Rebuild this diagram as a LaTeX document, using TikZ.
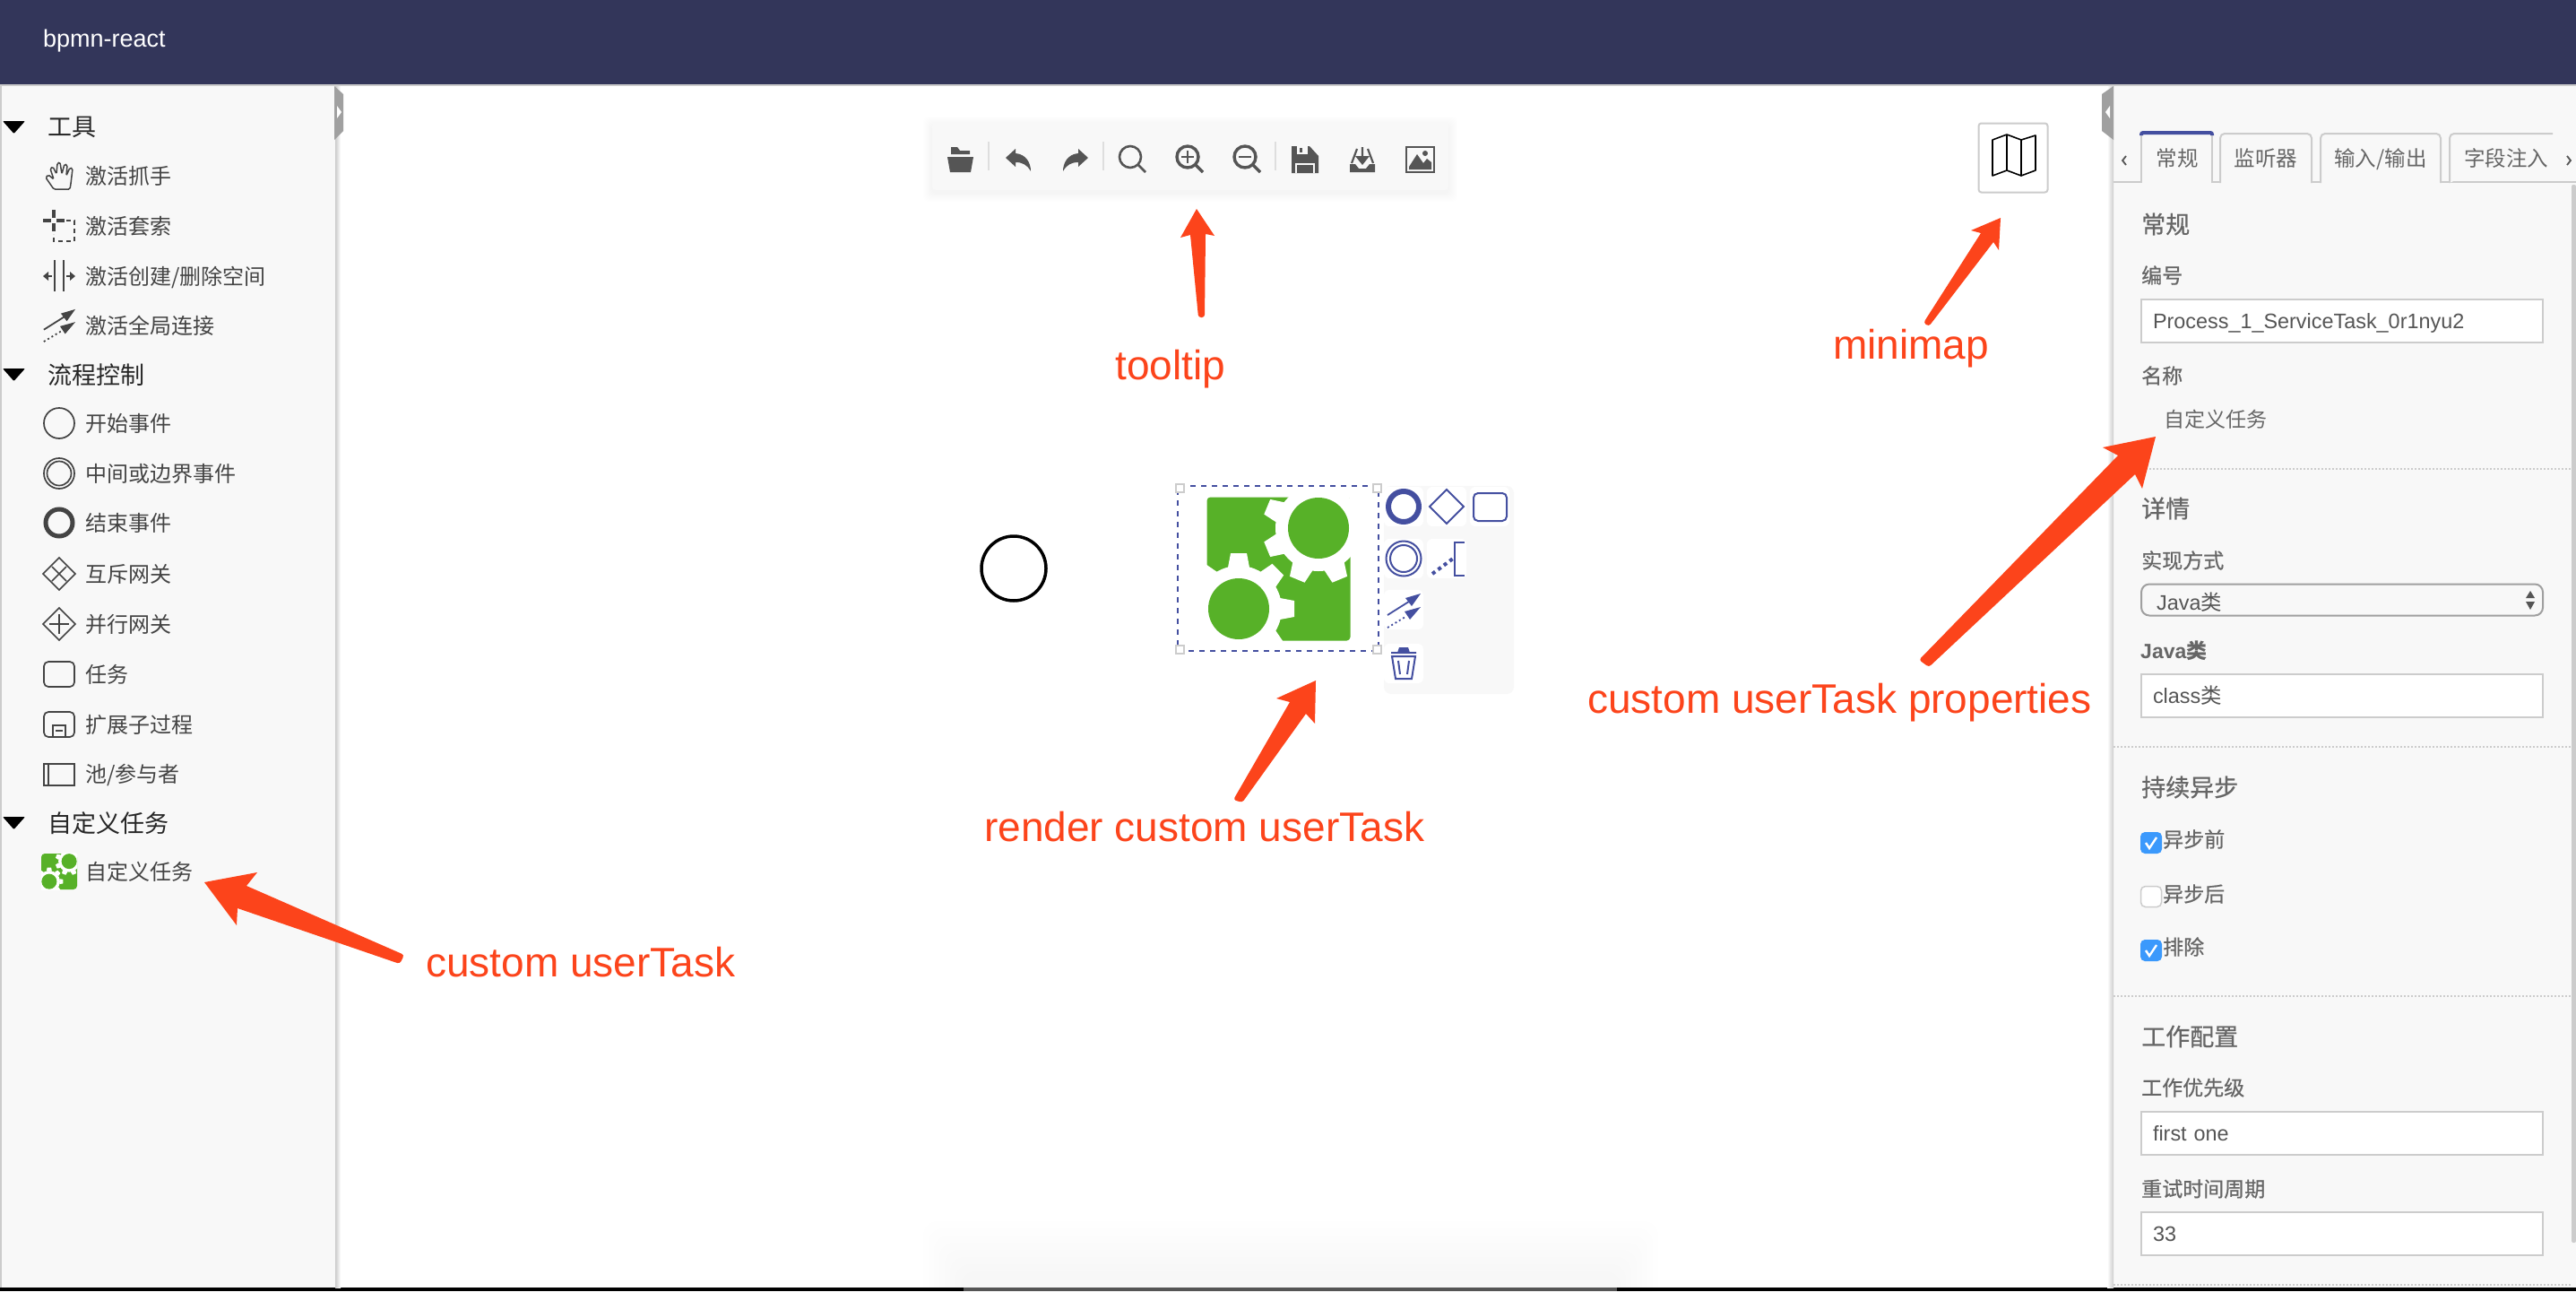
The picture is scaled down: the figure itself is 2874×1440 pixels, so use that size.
\documentclass[tikz,border=0pt]{standalone}
\usepackage{fontspec}
\setmainfont{Liberation Sans}
\newfontfamily\cjk{Noto Sans CJK SC}
\newfontfamily\cjkmed{Noto Sans CJK SC}[FakeBold=0.6]
\newcommand{\pxfont}[1]{\fontsize{#1}{#1}\selectfont}
\definecolor{headbg}{HTML}{33365A}
\definecolor{panelbg}{HTML}{F8F8F8}
\definecolor{rulegray}{HTML}{CCCCCC}
\definecolor{handlegray}{HTML}{A0A0A0}
\definecolor{sideink}{HTML}{444444}
\definecolor{toolink}{HTML}{555555}
\definecolor{formink}{HTML}{666666}
\definecolor{bpmnblue}{HTML}{444FA0}
\definecolor{taskgreen}{HTML}{57B128}
\definecolor{markred}{HTML}{FC441B}
\definecolor{checkblue}{HTML}{3B99FC}
\tikzset{
  x=1pt,y=-1pt,
  sidehead/.style={anchor=west,inner sep=0pt,font=\cjk\pxfont{27},text=black!85},
  sideitem/.style={anchor=west,inner sep=0pt,text height=20pt,text depth=2pt,font=\cjk\pxfont{24},text=sideink},
  icon/.style={draw=sideink,line width=1.7pt},
  tabtext/.style={inner sep=0pt,text height=20pt,text depth=2pt,font=\cjk\pxfont{23.5},text=formink},
  tabedge/.style={draw=rulegray,fill=panelbg,line width=2pt,rounded corners=5pt},
  formhead/.style={anchor=west,inner sep=0pt,font=\cjkmed\pxfont{27},text=formink},
  formlabel/.style={anchor=west,inner sep=0pt,font=\cjkmed\pxfont{23},text=formink},
  formtext/.style={anchor=west,inner sep=0pt,font=\cjk\pxfont{23},text=formink},
  inputbox/.style={draw=rulegray,fill=white,line width=2pt,minimum width=448pt,minimum height=48pt,
    inner xsep=13pt,inner ysep=0pt,text width=422pt,text height=17pt,text depth=0pt,align=left,font=\pxfont{23.4},text=toolink},
  sepline/.style={draw=rulegray,line width=2pt,dash pattern=on 2pt off 2pt},
  checkon/.style={fill=checkblue,rounded corners=5pt,minimum size=24pt,inner sep=0pt},
  checkoff/.style={draw=rulegray,fill=white,line width=1.5pt,rounded corners=5pt,minimum size=23pt,inner sep=0pt},
  toolsep/.style={draw=black!13,line width=2pt},
  padentry/.style={fill=white,rounded corners=6pt,minimum size=44pt,inner sep=0pt},
  padicon/.style={draw=bpmnblue,line width=2pt},
  selectbox/.style={draw=bpmnblue,line width=2pt,dash pattern=on 6pt off 6pt,minimum width=224pt,minimum height=184pt,inner sep=0pt},
  handlebox/.style={draw=rulegray,fill=white,line width=2pt,minimum size=9pt,inner sep=0pt},
  redmark/.style={fill=markred},
  redtext/.style={anchor=base west,inner sep=0pt,font=\pxfont{46},text=markred},
  % white gear, cut out of the green square
  gearcut/.pic={
    \fill[white] (0,0) circle (48);
    \foreach \a in {0,45,...,315}
      \fill[white,rotate=\a] (46,-12) -- (62,-9) -- (62,9) -- (46,12) -- cycle;
  },
  usertaskicon/.pic={
    \begin{scope}
    \clip (-81,-81) rectangle (81,81);
    \fill[taskgreen,rounded corners=4pt] (-80,-80) rectangle (80,80);
    \pic[transform shape,rotate=22.5] at (44.5,-45.5) {gearcut};
    \pic[transform shape] at (-44.5,44.5) {gearcut};
    \fill[taskgreen] (44.5,-45.5) circle (34);
    \fill[taskgreen] (-44.5,44.5) circle (34);
    \end{scope}
  },
  connecticon/.pic={
    \draw[line width=1.8pt] (-18,6) -- (9,-11);
    \fill (19,-18) -- (2,-13) -- (9,-4) -- cycle;
    \draw[line width=1.8pt,dash pattern=on 2pt off 3pt] (-18,20) -- (2,8);
    \fill (19,-3) -- (1,2) -- (7,11) -- cycle;
  },
  undoicon/.pic={
    \fill (-14,-1) -- (-3,-11) -- (-3,-6) .. controls (9,-5) and (14,5) .. (14,14)
      .. controls (10,7) and (5,4) .. (-3,4) -- (-3,9) -- cycle;
  },
  lensicon/.pic={
    \draw[line width=3.4pt] (0,0) circle (12);
    \draw[line width=3.4pt] (9,9) -- (17,17);
  },
}

\begin{document}
\begin{tikzpicture}
\useasboundingbox (0,0) rectangle (2874,1440);
\fill[white] (0,0) rectangle (2874,1440);

% shadow of the page bottom
\foreach \s in {0,...,7}
  \fill[black,opacity=.004,rounded corners=16pt] ({1030+\s*6},{1362+\s*8}) rectangle ({1850-\s*6},1450);
\fill[black] (0,1436) rectangle (2874,1440);
\fill[toolink] (1075,1436) rectangle (1804,1440);

% header
\fill[headbg] (0,0) rectangle (2874,94);
\fill[rulegray] (0,94) rectangle (2874,96);
\node[anchor=west,inner sep=0pt,font=\pxfont{27},text=white] (apptitle) at (48,46) {bpmn-react};

% left panel
\fill[panelbg] (2,96) rectangle (374,1436);
\fill[rulegray] (0,96) rectangle (2,1436);
\shade[left color=rulegray,right color=white] (374,96) rectangle (380,1436);
\fill[handlegray] (373,96) -- (383,105) -- (383,146) -- (373,156) -- cycle;
\fill[white] (376,118) -- (381,125) -- (376,132) -- cycle;

\foreach \y/\nm/\txt in {142/htools/工具,418/hflow/流程控制,918/hcustom/自定义任务}
{
  \node[sidehead] (\nm) at (53,\y) {\txt};
  \fill[black,rounded corners=1pt] (3,{\y-7}) -- (28,{\y-7}) -- (15.5,{\y+7}) -- cycle;
}
\foreach \y/\nm/\txt in {196/ihand/激活抓手,252/ilasso/激活套索,308/ispace/{激活创建/删除空间},363/iglobal/激活全局连接,
  472/istart/开始事件,528/imid/中间或边界事件,583/iend/结束事件,640/ixor/互斥网关,696/iand/并行网关,
  752/itask/任务,808/isub/扩展子过程,863/ipool/{池/参与者},972/iuser/自定义任务}
  \node[sideitem] (\nm) at (95,\y) {\txt};

% side icons
\draw[icon,line width=1.5pt,rounded corners=1.5pt] (60,211) -- (51,198) -- (54,195) -- (60,200) -- (56,188) -- (59,186) -- (63,194)
  -- (64,182) -- (67,181) -- (69,194) -- (72,183) -- (75,184) -- (74,196) -- (78,187) -- (81,188) -- (79,205) -- (78,211) -- cycle;
\draw[icon,line width=4pt] (48,246) -- (57,246) (63,246) -- (72,246) (60,234) -- (60,243) (60,249) -- (60,258);
\draw[icon,line width=1.5pt,dash pattern=on 5pt off 4pt] (74,246) -- (83,246) -- (83,269) -- (60,269) -- (60,261);
\draw[icon,line width=1.5pt] (61,290) -- (61,325) (71,290) -- (71,325);
\fill[sideink] (48,308) -- (54,303) -- (54,313) -- cycle (84,308) -- (78,303) -- (78,313) -- cycle;
\draw[icon] (54,308) -- (58,308) (78,308) -- (74,308);
\pic[color=sideink,scale=.95] at (66,362) {connecticon};
\draw[icon] (66,472) circle (17);
\draw[icon] (66,528) circle (17) (66,528) circle (13.5);
\draw[icon,line width=5pt] (66,583) circle (15);
\foreach \y in {640,696}
  \draw[icon] (48,\y) -- (66,{\y-18}) -- (84,\y) -- (66,{\y+18}) -- cycle;
\draw[icon] (58,632) -- (74,648) (74,632) -- (58,648);
\draw[icon] (55,696) -- (77,696) (66,685) -- (66,707);
\draw[icon,rounded corners=5pt] (49,738) rectangle (83,766);
\draw[icon,rounded corners=5pt] (49,794) rectangle (83,822);
\draw[icon] (59,822) -- (59,809) -- (73,809) -- (73,822) (62,815) -- (70,815);
\draw[icon] (49,852) rectangle (83,876) (54,852) -- (54,876);
\pic[scale=.25] at (66,972) {usertaskicon};

% toolbar
\foreach \s in {1,...,10}
  \fill[black,opacity=.005,rounded corners=6pt] ({1040-\s},{140-\s}) rectangle ({1616+\s},{215+\s});
\fill[panelbg,rounded corners=4pt] (1040,136) rectangle (1616,212);
\foreach \x in {1103,1231,1423}
  \draw[toolsep] (\x,158) -- (\x,190);
\begin{scope}[color=toolink]
\fill (1057,175) -- (1086,175) -- (1083,192) -- (1060,192) -- cycle;
\fill (1061,172) -- (1061,164) -- (1068,164) -- (1071,168) -- (1082,168) -- (1082,172) -- cycle;
\pic at (1136,177) {undoicon};
\pic[xscale=-1] at (1200,177) {undoicon};
\draw[line width=2.6pt] (1261,175) circle (12) (1270,184) -- (1278,192);
\pic at (1325,175) {lensicon};
\draw[line width=2.6pt] (1318,175) -- (1332,175) (1325,168) -- (1325,182);
\pic at (1389,175) {lensicon};
\draw[line width=2.6pt] (1382,175) -- (1396,175);
\fill (1441,163) -- (1461,163) -- (1471,174) -- (1471,193) -- (1441,193) -- cycle;
\fill[panelbg] (1447,163) rectangle (1459,172);
\fill (1450,165) rectangle (1453,170);
\draw[panelbg,line width=1.6pt] (1446,193) -- (1446,183) -- (1466,183) -- (1466,193);
\fill (1506,183) -- (1512,183) -- (1516,188) -- (1524,188) -- (1528,183) -- (1534,183) -- (1534,192) -- (1506,192) -- cycle;
\draw[line width=2.2pt] (1508,182) -- (1514,166) (1532,182) -- (1526,166) (1520,164) -- (1520,176);
\fill (1512,174) -- (1528,174) -- (1520,184) -- cycle;
\draw[line width=2.2pt] (1569,164) rectangle (1600,192);
\fill (1572,189) -- (1572,186) -- (1581,172) -- (1588,182) -- (1592,177) -- (1597,181) -- (1597,189) -- cycle;
\fill (1590,171) circle (3);
\end{scope}

% minimap button
\node[draw=rulegray,fill=white,line width=2pt,rounded corners=3pt,minimum size=77pt,inner sep=0pt] (minimapbtn) at (2246,176) {};
\draw[black,line width=1.6pt,line join=round] (2223,156) -- (2239,150) -- (2255,156) -- (2271,151) -- (2271,190) -- (2255,196)
  -- (2239,190) -- (2223,196) -- cycle (2239,150) -- (2239,190) (2255,156) -- (2255,196);

% canvas elements
\node[circle,draw=black,line width=3.5pt,minimum size=72pt,inner sep=0pt] (startev) at (1131,634) {};
\pic at (1426.5,634.5) {usertaskicon};
\node[selectbox] (taskbox) at (1426,634) {};
\foreach \c/\n/\dx/\dy in {north west/nw/3/-3,north east/ne/-3/-3,south west/sw/3/3,south east/se/-3/3}
  \node[handlebox,xshift=\dx pt,yshift=\dy pt] (hd\n) at (taskbox.\c) {};

% context pad
\fill[panelbg,rounded corners=8pt] (1544,542) rectangle (1689,774);
\foreach \x/\y/\n in {1566/565/a,1614/565/b,1662/565/c,1566/623/d,1614/623/e,1566/680/f,1566/740/g}
  \node[padentry] (pad\n) at (\x,\y) {};
\draw[padicon,line width=6pt] (1566,565) circle (17);
\draw[padicon] (1595,565) -- (1614,546) -- (1633,565) -- (1614,584) -- cycle;
\draw[padicon,rounded corners=5pt] (1644,550) rectangle (1681,581);
\draw[padicon] (1566,623) circle (19.5) (1566,623) circle (15);
\draw[padicon] (1634,605) -- (1623,605) -- (1623,642) -- (1634,642);
\draw[padicon,line width=4pt,dash pattern=on 4pt off 4pt] (1598,640) -- (1621,623);
\pic[color=bpmnblue] at (1566,680) {connecticon};
\fill[bpmnblue] (1559,728) -- (1561,722) -- (1571,722) -- (1573,728) -- cycle;
\draw[padicon] (1552,728) -- (1580,728) (1553,732) -- (1557,757) -- (1575,757) -- (1579,732) -- cycle
  (1560,737) -- (1562,752) (1572,737) -- (1570,752);

% right panel
\fill[panelbg] (2358,96) rectangle (2874,1436);
\shade[left color=white,right color=rulegray] (2351,96) rectangle (2358,1436);
\fill[handlegray] (2358,96) -- (2345,105) -- (2345,146) -- (2358,156) -- cycle;
\fill[white] (2354,118) -- (2349,125) -- (2354,132) -- cycle;
\draw[rulegray,line width=2pt] (2358,203) -- (2874,203);

% tabs
\foreach \a/\b in {2477/2579,2589/2723}
  \draw[tabedge] (\a,204) -- (\a,149) -- (\b,149) -- (\b,204);
\draw[tabedge] (2733,204) -- (2733,149) [sharp corners] -- (2848,149);
\fill[panelbg] (2390,146) rectangle (2467,205);
\draw[rulegray,line width=2pt] (2389,204) -- (2389,150) (2468,204) -- (2468,150);
\draw[bpmnblue,line width=4pt,rounded corners=2pt] (2389,151) -- (2389,148) -- (2468,148) -- (2468,151);
\foreach \x/\nm/\txt in {2429/tabcommon/常规,2528/tablisten/监听器,2656/tabio/{输入/输出},2796/tabfield/字段注入}
  \node[tabtext] (\nm) at (\x,176) {\txt};
\draw[toolink,line width=1.8pt] (2372,174) -- (2368,179) -- (2372,184) (2864,174) -- (2868,179) -- (2864,184);

% form
\foreach \y/\nm/\txt in {250/fcommon/常规,567/fdetail/详情,878/fasync/持续异步,1156/fjob/工作配置}
  \node[formhead] (\nm) at (2389,\y) {\txt};
\foreach \y/\nm/\txt in {307/lid/编号,419/lname/名称,625/limpl/实现方式,1213/lprio/工作优先级,1326/lretry/重试时间周期}
  \node[formlabel] (\nm) at (2389,\y) {\txt};
\node[anchor=west,inner sep=0pt,font=\bfseries\pxfont{23},text=formink] (ljava) at (2388,726) {Java{\cjk 类}};
\node[formtext] (taskname) at (2414,468) {自定义任务};
\foreach \y/\nm/\txt in {358/idbox/{Process\_1\_ServiceTask\_0r1nyu2},776/classbox/{class{\cjk 类}},1264/priobox/first one,1376/retrybox/33}
  \node[inputbox] (\nm) at (2613,\y) {\txt};
\node[draw=handlegray,line width=2pt,rounded corners=9pt,minimum width=448pt,minimum height=35pt,inner sep=0pt] (implbox) at (2613,669) {};
\node[anchor=west,inner sep=0pt,font=\pxfont{23.4},text=toolink] (impltext) at (2406,672) {Java{\cjk 类}};
\fill[toolink] (2818,667) -- (2828,667) -- (2823,659) -- cycle (2818,671) -- (2828,671) -- (2823,680) -- cycle;
\foreach \y in {523,833,1111,1433}
  \draw[sepline] (2358,\y) -- (2869,\y);
\fill[rulegray,rounded corners=2pt] (2869,206) rectangle (2874,1386);

% check boxes
\node[checkon] (chka) at (2400,940) {};
\node[checkoff] (chkb) at (2400,1000) {};
\node[checkon] (chkc) at (2400,1060) {};
\foreach \y in {940,1060}
  \draw[white,line width=2.4pt] (2394,\y) -- (2398,{\y+6}) -- (2406,{\y-6});
\foreach \y/\nm/\txt in {936/lbefore/异步前,997/lafter/异步后,1056/lexcl/排除}
  \node[formlabel] (\nm) at (2413,\y) {\txt};

% red marks
\fill[redmark] (228,984) -- (287,973) -- (275,988) [rounded corners=3pt] -- (451,1065) -- (446,1075) [sharp corners] -- (265,1013) -- (264,1032) -- cycle;
\fill[redmark] (1335,233) -- (1317,265) -- (1328,262) [rounded corners=3pt] -- (1337,354) -- (1344,354) [sharp corners] -- (1345,261) -- (1355,263) -- cycle;
\fill[redmark] (2232,243) -- (2199,257) -- (2210,260) [rounded corners=3pt] -- (2146,360) -- (2152,364) [sharp corners] -- (2224,270) -- (2230,279) -- cycle;
\fill[redmark] (1468,759) -- (1424,779) -- (1439,783) [rounded corners=3pt] -- (1376,892) -- (1386,895) [sharp corners] -- (1457,796) -- (1467,807) -- cycle;
\fill[redmark] (2405,487) -- (2346,499) -- (2363,508) [rounded corners=3pt] -- (2141,736) -- (2152,744) [sharp corners] -- (2382,529) -- (2390,545) -- cycle;
\node[redtext] (tiptext) at (1244,423) {tooltip};
\node[redtext] (maptext) at (2045,400) {minimap};
\node[redtext] (proptext) at (1771,795) {custom userTask properties};
\node[redtext] (rendertext) at (1098,938) {render custom userTask};
\node[redtext] (usertext) at (475,1089) {custom userTask};
\end{tikzpicture}
\end{document}
